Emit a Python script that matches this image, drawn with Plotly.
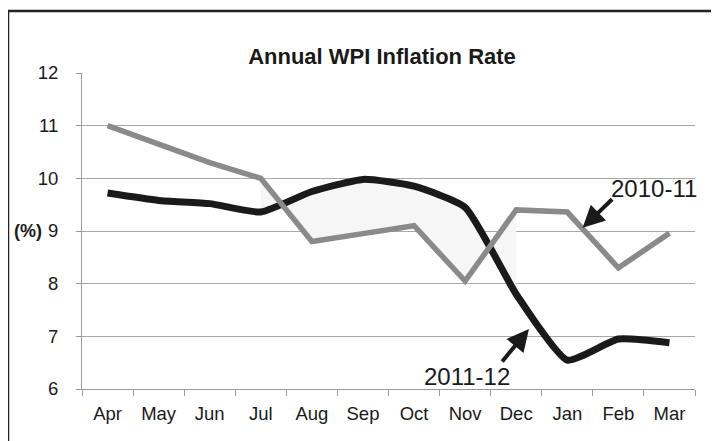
import plotly.graph_objects as go

months = ["Apr", "May", "Jun", "Jul", "Aug", "Sep", "Oct", "Nov", "Dec", "Jan", "Feb", "Mar"]
rate_2010_11 = [11.0, 10.65, 10.3, 10.0, 8.8, 8.95, 9.1, 8.05, 9.4, 9.36, 8.3, 8.96]
rate_2011_12 = [9.72, 9.58, 9.52, 9.36, 9.75, 9.98, 9.85, 9.45, 7.8, 6.55, 6.95, 6.88]
y_ticks = [6, 7, 8, 9, 10, 11, 12]

FONT = "Liberation Sans, Arial, sans-serif"

# page body has an 8px margin, so the figure is drawn 8px smaller
W, H = 711, 433

fig = go.Figure()

# very faint shading between the two years, Jul to Dec
s = slice(3, 9)
fig.add_trace(go.Scatter(x=months[s], y=rate_2011_12[s], mode="lines",
                         line=dict(width=0), hoverinfo="skip", showlegend=False))
fig.add_trace(go.Scatter(x=months[s], y=rate_2010_11[s], mode="lines", fill="tonexty",
                         fillcolor="rgba(246,246,246,1)", line=dict(width=0),
                         hoverinfo="skip", showlegend=False))

fig.add_trace(go.Scatter(x=months, y=rate_2011_12, mode="lines", name="2011-12",
                         line=dict(color="#1a1a1a", width=7, shape="spline", smoothing=0.5)))
fig.add_trace(go.Scatter(x=months, y=rate_2010_11, mode="lines", name="2010-11",
                         line=dict(color="#8a8a8a", width=5.5)))

fig.update_layout(
    width=W, height=H,
    margin=dict(l=74, r=24, t=65, b=52),
    paper_bgcolor="white", plot_bgcolor="white",
    showlegend=False,
    font=dict(family=FONT, size=18.5, color="#1a1a1a"),
    title=dict(text="<b>Annual WPI Inflation Rate</b>", x=374 / W, xanchor="center",
               y=1 - 48 / H, yanchor="middle", font=dict(size=22, color="#1a1a1a")),
)

fig.update_xaxes(
    type="category", categoryorder="array", categoryarray=months,
    range=[-0.5, 11.5], tickson="boundaries",
    ticks="outside", ticklen=6, tickcolor="#999999",
    showline=True, linecolor="#999999", linewidth=1,
    showgrid=False, ticklabelstandoff=8, automargin=False,
)
fig.update_yaxes(
    range=[6, 12], tickvals=y_ticks, ticks="outside", ticklen=5, tickcolor="#999999",
    showline=True, linecolor="#999999", linewidth=1,
    showgrid=True, gridcolor="#a8a8a8", gridwidth=1, zeroline=False,
    ticklabelstandoff=14, automargin=False,
)

fig.add_annotation(x=(28 - 82) / 613, y=9, xref="paper", yref="y", text="<b>(%)</b>",
                   showarrow=False, xanchor="center", font=dict(size=18))

fig.add_annotation(x=9.3, y=9.06, ax=31, ay=-30, text="", showarrow=True,
                   arrowhead=2, arrowsize=1.1, arrowwidth=4, arrowcolor="#1a1a1a")
fig.add_annotation(x=10.69, y=9.8, text="2010-11", showarrow=False, font=dict(size=24))

fig.add_annotation(x=8.25, y=7.14, ax=-28, ay=34, text="", showarrow=True,
                   arrowhead=2, arrowsize=1.1, arrowwidth=4, arrowcolor="#1a1a1a")
fig.add_annotation(x=7.03, y=6.23, text="2011-12", showarrow=False, font=dict(size=24))

# outer frame
fig.add_shape(type="rect", xref="paper", yref="paper",
              x0=(8 - 82) / 613, x1=(725 - 82) / 613,
              y0=(389 - 450) / 316, y1=(389 - 11) / 316,
              line=dict(color="#222222", width=2.5), layer="below")

fig.write_html("out.html")
